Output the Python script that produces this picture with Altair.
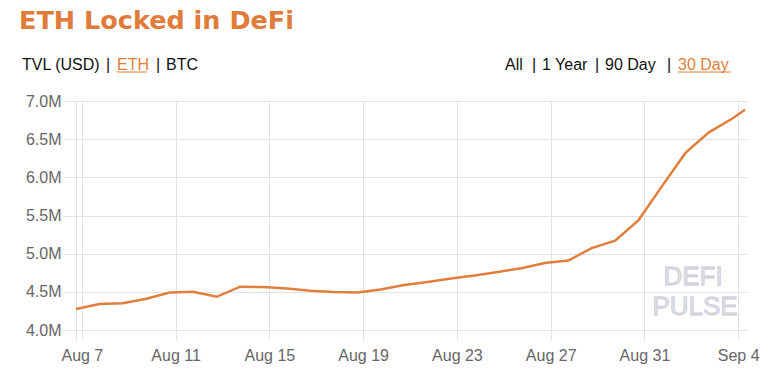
import altair as alt
import pandas as pd

# ---- data (ETH locked in DeFi, millions of ETH) ----
dates = [
    "2020-08-06T18:00:00", "2020-08-07T18:00:00", "2020-08-08T18:00:00",
    "2020-08-09T18:00:00", "2020-08-10T18:00:00", "2020-08-11T18:00:00",
    "2020-08-12T18:00:00", "2020-08-13T18:00:00", "2020-08-14T18:00:00",
    "2020-08-15T18:00:00", "2020-08-16T18:00:00", "2020-08-17T18:00:00",
    "2020-08-18T18:00:00", "2020-08-19T18:00:00", "2020-08-20T18:00:00",
    "2020-08-21T18:00:00", "2020-08-22T18:00:00", "2020-08-23T18:00:00",
    "2020-08-24T18:00:00", "2020-08-25T18:00:00", "2020-08-26T18:00:00",
    "2020-08-27T18:00:00", "2020-08-28T18:00:00", "2020-08-29T18:00:00",
    "2020-08-30T18:00:00", "2020-08-31T18:00:00", "2020-09-01T18:00:00",
    "2020-09-02T18:00:00", "2020-09-03T18:00:00", "2020-09-04T07:00:00",
]
eth_locked_m = [
    4.275, 4.34, 4.35, 4.41, 4.49, 4.50, 4.435, 4.567, 4.563, 4.543,
    4.515, 4.497, 4.49, 4.53, 4.59, 4.63, 4.674, 4.713, 4.76, 4.81,
    4.877, 4.91, 5.073, 5.17, 5.44, 5.885, 6.32, 6.59, 6.77, 6.886,
]
y_ticks = [4.0e6, 4.5e6, 5.0e6, 5.5e6, 6.0e6, 6.5e6, 7.0e6]
title_text = "ETH Locked in DeFi"
left_header = ["TVL (USD)", "|", "ETH", "|", "BTC"]
left_active = "ETH"
right_header = ["All", "|", "1 Year", "|", "90 Day", "|", "30 Day"]
right_active = "30 Day"
watermark = ["DEFI", "PULSE"]

df = pd.DataFrame({"date": dates, "tvl": [v * 1e6 for v in eth_locked_m]})

ORANGE = "#e07f3d"
GRID = "#e3e3e3"
FONT = "Liberation Sans"

x_values = [alt.DateTime(year=2020, month=8, date=6, hours=18)] + [
    alt.DateTime(year=2020, month=m, date=d)
    for m, d in [(8, 7), (8, 11), (8, 15), (8, 19), (8, 23), (8, 27), (8, 31), (9, 4)]
]

line = alt.Chart(df).mark_line(color=ORANGE, strokeWidth=2.5).encode(
    x=alt.X(
        "date:T",
        scale=alt.Scale(
            domain=[
                alt.DateTime(year=2020, month=8, date=6, hours=18),
                alt.DateTime(year=2020, month=9, date=4, hours=9),
            ]
        ),
        axis=alt.Axis(
            values=x_values,
            labelExpr="hours(datum.value) == 18 ? '' : timeFormat(datum.value, '%b %-d')",
            title=None,
            grid=True,
            gridColor=GRID,
            tickSize=10,
            tickColor=GRID,
            domain=False,
            labelFontSize=16,
            labelColor="#666666",
            labelFont=FONT,
            labelPadding=7,
            labelFlush=False,
        ),
    ),
    y=alt.Y(
        "tvl:Q",
        scale=alt.Scale(domain=[4.0e6, 7.0e6], nice=False, zero=False),
        axis=alt.Axis(
            values=y_ticks,
            labelExpr="format(datum.value / 1000000, '.1f') + 'M'",
            title=None,
            grid=True,
            gridColor=GRID,
            tickSize=13,
            tickColor=GRID,
            domain=False,
            labelFontSize=16,
            labelColor="#666666",
            labelFont=FONT,
            labelPadding=2,
        ),
    ),
)

layers = [line]


def text_layer(txt, x, y, color="#111111", size=16, weight="normal", align="left",
               font=FONT, stroke=None):
    kw = dict(align=align, baseline="alphabetic", fontSize=size, fontWeight=weight,
              font=font, color=color)
    if stroke:
        kw.update(stroke=stroke, strokeWidth=0.8)
    return alt.Chart(pd.DataFrame({"t": [txt]})).mark_text(**kw).encode(
        text="t:N", x=alt.value(x), y=alt.value(y))


def underline(x1, x2, y):
    return alt.Chart(pd.DataFrame({"t": [0]})).mark_rule(
        color=ORANGE, strokeWidth=1
    ).encode(x=alt.value(x1), x2=alt.value(x2), y=alt.value(y))


# title
layers.append(text_layer(title_text, -57, -72, color="#e07b39", size=25.5,
                         weight="bold", font="DejaVu Sans"))

# left header
left_x = [-54, 30, 41, 80, 90]
for txt, xx in zip(left_header, left_x):
    col = ORANGE if txt == left_active else "#111111"
    layers.append(text_layer(txt, xx, -31, color=col))
layers.append(underline(41, 71, -29))

# right header
right_x = [429, 456, 466, 519, 529, 591, 602]
for txt, xx in zip(right_header, right_x):
    col = ORANGE if txt == right_active else "#111111"
    layers.append(text_layer(txt, xx, -31, color=col))
layers.append(underline(602, 655, -29))

# watermark
layers.append(text_layer(watermark[0], 617, 184, color="#e2e2e9", size=26,
                         align="center", stroke="#c9c9d3"))
layers.append(text_layer(watermark[1], 619, 214, color="#e2e2e9", size=26,
                         align="center", stroke="#c9c9d3"))

chart = alt.layer(*layers).properties(
    width=671,
    height=229,
    autosize=alt.AutoSizeParams(type="none"),
    padding={"left": 68, "top": 93, "right": 18, "bottom": 36},
    background="white",
).configure_view(stroke=None)

chart.save("out.html", embed_options={"renderer": "svg", "actions": False})
